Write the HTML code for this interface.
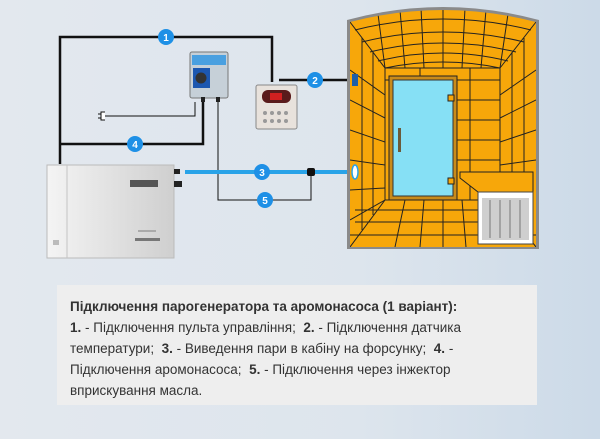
<!DOCTYPE html>
<html><head><meta charset="utf-8"><style>
html,body{margin:0;padding:0}
body{width:600px;height:439px;overflow:hidden;background:linear-gradient(90deg,#e3e8ee 0%,#dde5ed 60%,#ccdae8 100%);font-family:"Liberation Sans",sans-serif;position:relative}
.box{position:absolute;left:57px;top:285px;width:480px;height:120px;background:#eeeeee}
.box p{margin:0;position:absolute;left:13px;top:11px;width:460px;font-size:13.5px;line-height:21px;color:#333}
svg{position:absolute;left:0;top:0}
</style></head><body>
<svg width="600" height="280" viewBox="0 0 600 280">
<defs>
<linearGradient id="gen" x1="0" x2="1"><stop offset="0" stop-color="#f4f4f4"/><stop offset="1" stop-color="#cfcfcf"/></linearGradient>
<clipPath id="sc"><path d="M350 22 Q443 -2 536 22 L536 247 L350 247 Z"/></clipPath>
</defs>
<g fill="none" stroke="#111" stroke-width="2.5">
<path d="M60 164 L60 37 L272 37 L272 82"/>
<path d="M60 144 L203 144 L203 102"/>
<path d="M279 80 L347 80" />
</g>
<g fill="none" stroke="#111" stroke-width="1">
<path d="M104 116 L195 116 L195 102"/>
<path d="M218 102 L218 200 L311 200 L311 172"/>
</g>
<path d="M105 112 h-4 v8 h4 M98 114 h3 M98 118 h3" stroke="#111" fill="#fff" stroke-width="1"/>
<line x1="185" y1="172" x2="350" y2="172" stroke="#29a3e8" stroke-width="4"/>
<rect x="307" y="168" width="8" height="8" rx="2" fill="#111"/>
<path d="M347 20 Q443 -6 539 20 L539 249 L347 249 Z" fill="#8a8a8a"/>
<g clip-path="url(#sc)">
<rect x="340" y="0" width="210" height="260" fill="#f7a70a"/>
<g stroke="#222" stroke-width="1" fill="none">
<path d="M355 30 Q443 8 531 30 M362 42 Q443 22 524 42 M370 52 Q443 34 516 52 M378 61 Q443 45 508 61 M385 68 Q443 56 500 68"/>
<path d="M378 14 L385 68 M400 10 L405 68 M421 8 L424 68 M443 7 L443 68 M465 8 L462 68 M486 10 L481 68 M508 14 L500 68"/>
<path d="M350 22 L385 68 M536 22 L500 68 M350 247 L385 200 M536 247 L500 200"/>
<rect x="385" y="68" width="115" height="132"/>
<path d="M350 70 L385 95 M350 100 L385 118 M350 130 L385 142 M350 160 L385 165 M350 190 L385 188 M350 220 L385 200"/>
<path d="M362 38 L362 230 M373 52 L373 215"/>
<path d="M536 70 L500 95 M536 100 L500 118 M536 130 L500 142 M536 160 L500 165"/>
<path d="M524 38 L524 175 M512 52 L512 180"/>
<path d="M355 210 L530 210 M355 222 L530 222 M350 235 L536 235"/>
<path d="M405 200 L395 247 M424 200 L420 247 M443 200 L443 247 M462 200 L466 247"/>
<path d="M385 80 L500 80 M453 100 L500 100 M453 120 L500 120 M453 140 L500 140 M453 160 L500 160 M420 68 L420 80 M470 68 L470 200"/>
</g>
<rect x="389" y="76" width="68" height="124" fill="#c98b1a" stroke="#222"/>
<rect x="393" y="80" width="60" height="116" fill="#86e0f5" stroke="#333"/>
<rect x="398" y="128" width="3" height="24" fill="#6b5a3a"/>
<rect x="448" y="95" width="6" height="6" fill="#f7a70a" stroke="#222"/>
<rect x="448" y="178" width="6" height="6" fill="#f7a70a" stroke="#222"/>
<path d="M460 172 L533 172 L533 192 L478 192 L460 178 Z" fill="#f7a70a" stroke="#222"/>
<rect x="478" y="192" width="55" height="52" fill="#fff" stroke="#444"/>
<rect x="482" y="198" width="47" height="42" fill="#cfcfcf"/>
<path d="M490 200 L490 238 M500 200 L500 238 M510 200 L510 238 M520 200 L520 238" stroke="#777"/>
</g>
<rect x="352" y="74" width="6" height="12" fill="#1f5fa8"/>
<ellipse cx="355" cy="172" rx="3" ry="7" fill="#fff" stroke="#29a3e8" stroke-width="1.5"/>
<!-- pump -->
<rect x="190" y="52" width="38" height="46" rx="2" fill="#c6d0d8" stroke="#777"/>
<rect x="192" y="55" width="34" height="10" fill="#4aa0e0"/>
<rect x="193" y="68" width="17" height="20" fill="#1c57b0"/>
<circle cx="201" cy="78" r="5.5" fill="#333"/>
<rect x="201" y="97" width="4" height="5" fill="#222"/><rect x="216" y="97" width="4" height="5" fill="#222"/>
<!-- panel -->
<rect x="256" y="85" width="41" height="44" rx="2" fill="#e8e2dc" stroke="#888"/>
<rect x="262" y="90" width="29" height="13" rx="6" fill="#5a1b1b"/>
<rect x="270" y="93" width="12" height="7" fill="#d02020"/>
<g fill="#999"><circle cx="265" cy="113" r="2"/><circle cx="272" cy="113" r="2"/><circle cx="279" cy="113" r="2"/><circle cx="286" cy="113" r="2"/><circle cx="265" cy="121" r="2"/><circle cx="272" cy="121" r="2"/><circle cx="279" cy="121" r="2"/><circle cx="286" cy="121" r="2"/></g>
<!-- generator -->
<rect x="47" y="165" width="127" height="93" fill="url(#gen)" stroke="#bbb"/>
<line x1="67" y1="165" x2="67" y2="258" stroke="#c4c4c4"/>
<rect x="130" y="180" width="28" height="7" fill="#555"/>
<rect x="174" y="169" width="6" height="5" fill="#222"/><rect x="174" y="181" width="8" height="6" fill="#222"/>
<rect x="135" y="238" width="25" height="3" fill="#777"/>
<rect x="138" y="230" width="18" height="2" fill="#aaa"/>
<rect x="53" y="240" width="6" height="5" fill="#bbb"/>
<g font-family="Liberation Sans,sans-serif" font-size="10" font-weight="bold" fill="#fff" text-anchor="middle">
<circle cx="166" cy="37" r="8" fill="#1e90e6"/><text x="166" y="41">1</text>
<circle cx="315" cy="80" r="8" fill="#1e90e6"/><text x="315" y="84">2</text>
<circle cx="262" cy="172" r="8" fill="#1e90e6"/><text x="262" y="176">3</text>
<circle cx="135" cy="144" r="8" fill="#1e90e6"/><text x="135" y="148">4</text>
<circle cx="265" cy="200" r="8" fill="#1e90e6"/><text x="265" y="204">5</text>
</g>
</svg>
<div class="box"><p><b>Підключення парогенератора та аромонасоса (1 варіант):</b><br><b>1.</b> - Підключення пульта управління;&nbsp; <b>2.</b> - Підключення датчика температури;&nbsp; <b>3.</b> - Виведення пари в кабіну на форсунку;&nbsp; <b>4.</b> - Підключення аромонасоса;&nbsp; <b>5.</b> - Підключення через інжектор вприскування масла.</p></div>
</body></html>
